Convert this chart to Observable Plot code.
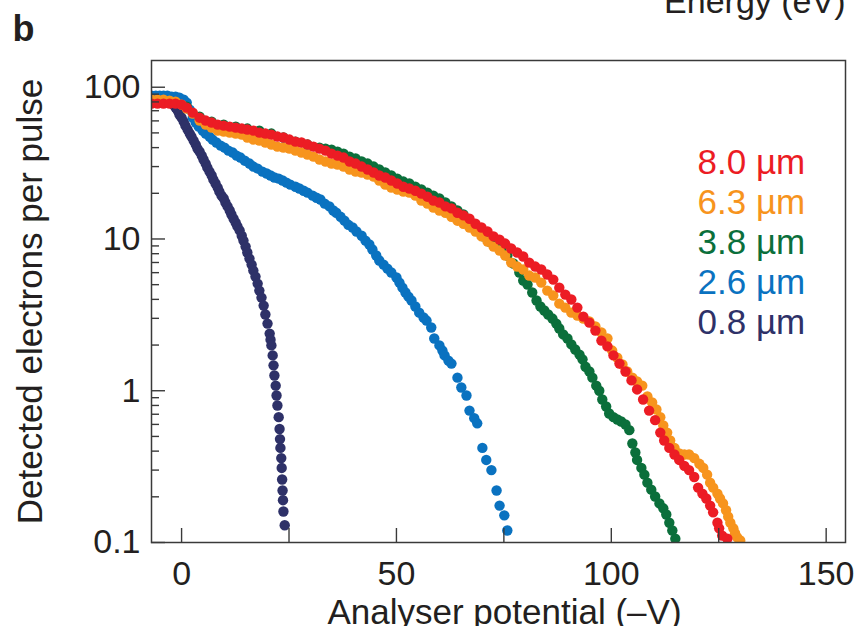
<!DOCTYPE html>
<html>
<head>
<meta charset="utf-8">
<script src="https://cdn.jsdelivr.net/npm/d3@7"></script>
<script src="https://cdn.jsdelivr.net/npm/@observablehq/plot@0.6"></script>
<style>
  html, body { margin: 0; padding: 0; background: #fff; }
  #chart svg { display: block; }
</style>
</head>
<body>
<div id="chart"></div>
<script>
// ---- Series names / colours ----
const seriesNames = ["0.8 µm", "2.6 µm", "3.8 µm", "6.3 µm", "8.0 µm"];
const seriesColors = ["#2e3168", "#0a72c0", "#0b6f3b", "#f7941d", "#ec1c24"];
const legendOrder = ["8.0 µm", "6.3 µm", "3.8 µm", "2.6 µm", "0.8 µm"];

// ---- 0.8 µm ----
const x08 = [-7.0,-6.5,-6.0,-5.6,-5.1,-4.7,-4.2,-3.7,-3.3,-2.8,-2.3,-1.9,-1.4,-0.9,-0.5,0.0,0.5,0.9,1.4,1.9,2.3,2.8,3.3,3.7,4.2,4.7,5.1,5.6,6.0,6.5,7.0,7.4,7.9,8.4,8.8,9.3,9.8,10.2,10.7,11.2,11.6,12.1,12.6,13.0,13.5,14.0,14.4,14.9,15.3,15.8,16.3,16.7,17.2,17.7,18.1,18.6,19.1,19.5,20.0,20.5,20.7,20.9,21.2,21.4,21.6,21.9,22.1,22.3,22.6,22.8,22.9,23.0,23.2,23.3,23.4,23.5,23.6,23.7,24.0];
const y08 = [81.6,82.9,82.9,82.9,82.9,82.9,81.6,81.6,81.6,80.4,79.2,76.8,73.4,70.2,66.0,63.0,59.3,55.8,52.6,49.5,47.3,44.5,41.9,39.4,37.6,35.4,33.4,31.4,29.5,27.8,26.2,24.6,23.2,21.8,20.5,19.3,18.5,17.4,16.4,15.4,14.5,13.6,12.8,12.1,11.4,10.5,9.76,8.91,8.14,7.43,6.78,6.19,5.65,5.08,4.57,4.11,3.64,3.18,2.77,2.38,2.17,1.99,1.71,1.47,1.26,1.08,0.93,0.80,0.67,0.56,0.48,0.42,0.36,0.31,0.26,0.22,0.19,0.16,0.13];

// ---- 2.6 µm ----
const x26 = [-7.0,-6.0,-5.1,-4.2,-3.3,-2.3,-1.4,-0.5,0.5,1.2,1.9,2.6,3.3,4.0,4.9,5.6,6.5,7.2,8.1,9.1,10.0,10.9,11.9,12.8,13.7,14.7,15.8,16.7,17.7,18.8,19.8,20.7,21.6,22.6,23.5,24.4,25.3,26.5,27.4,28.4,29.3,30.5,31.4,32.3,33.3,34.4,35.3,36.0,37.0,37.9,38.8,39.8,40.7,41.9,42.8,43.7,44.4,45.3,46.0,47.0,47.9,48.8,50.0,50.7,51.4,52.1,52.8,53.5,54.4,55.3,56.3,57.0,58.1,58.8,60.0,60.7,61.2,62.1,62.8,64.2,65.1,66.3,67.0,68.1,68.8,70.0,70.9,72.1,73.3,74.0,75.1,75.8];
const y26 = [88.0,88.0,88.0,88.0,88.0,86.7,86.7,85.4,82.9,79.2,71.2,63.0,58.5,55.0,51.8,49.5,47.3,45.2,43.2,41.2,40.0,38.2,37.1,35.4,34.4,32.8,31.4,30.0,29.1,27.8,27.0,26.2,25.4,25.0,24.3,23.5,22.8,22.1,21.5,20.8,20.2,19.3,18.7,18.2,17.1,16.4,15.4,14.9,14.0,13.2,12.4,11.9,11.2,10.5,9.76,9.19,8.52,7.78,7.21,6.78,6.38,6.01,5.57,5.16,4.78,4.44,4.17,3.93,3.59,3.27,3.04,2.90,2.61,2.21,1.99,1.84,1.71,1.58,1.51,1.22,1.05,0.93,0.74,0.66,0.61,0.42,0.35,0.30,0.22,0.175,0.151,0.120];

// ---- 3.8 µm ----
const x38 = [-7.0,-4.2,-1.4,1.2,4.2,7.0,9.8,12.6,15.3,18.1,20.9,23.7,26.5,29.3,32.1,33.5,34.9,36.3,37.7,39.1,40.5,41.9,43.3,44.7,46.0,47.4,48.8,50.2,51.6,53.0,54.4,55.8,57.2,58.6,60.0,61.4,62.8,64.2,65.6,67.0,68.8,70.2,71.6,73.0,74.4,75.8,77.2,78.6,79.5,80.5,81.6,82.6,83.5,84.4,85.3,86.3,87.2,87.9,88.8,89.8,90.7,91.6,92.6,93.3,94.0,94.9,95.6,96.5,97.2,97.9,98.8,99.5,100.5,101.4,102.3,103.3,104.2,104.9,105.6,106.0,107.0,107.7,108.4,109.3,110.2,111.2,112.1,112.8,113.5,114.2,114.9];
const y38 = [80.4,80.4,79.2,74.5,64.0,59.3,56.7,55.0,53.4,51.8,49.5,46.6,43.8,41.9,40.0,39.4,38.8,37.6,36.5,34.9,33.9,32.4,31.4,30.0,28.7,27.4,26.2,25.0,23.9,23.2,22.1,21.2,20.2,19.3,18.5,17.4,16.4,15.4,14.5,13.2,11.4,10.4,9.61,9.19,8.52,7.78,6.89,6.01,5.32,5.01,4.44,3.93,3.59,3.38,3.18,2.99,2.77,2.57,2.35,2.21,2.02,1.87,1.73,1.61,1.44,1.34,1.22,1.08,1.00,0.875,0.787,0.708,0.67,0.646,0.627,0.599,0.55,0.449,0.392,0.35,0.31,0.28,0.248,0.223,0.201,0.181,0.168,0.153,0.135,0.120,0.106];

// ---- 6.3 µm ----
const x63 = [-7.0,-5.6,-4.2,-2.8,-1.4,0.0,1.2,2.6,4.2,5.6,7.0,8.4,9.8,11.2,12.6,14.0,15.3,16.7,18.1,19.5,20.9,22.3,23.7,25.1,26.5,27.9,29.3,30.7,32.1,33.5,34.9,36.3,37.7,39.1,40.5,41.9,43.3,44.7,46.0,47.4,48.8,50.2,51.6,53.0,54.4,55.8,57.2,58.6,60.0,61.4,62.8,64.2,65.6,67.0,68.4,69.8,71.2,72.6,74.0,75.3,76.7,78.1,79.5,80.9,82.3,83.7,85.1,86.5,87.9,89.3,90.7,92.1,93.5,94.9,96.3,97.7,99.1,100.2,101.4,102.6,103.7,104.9,106.0,107.2,108.4,109.5,110.5,111.4,112.1,113.0,113.7,114.7,115.8,117.0,118.1,119.3,120.5,121.4,122.3,123.0,123.7,124.7,125.3,126.0,126.7,127.2,127.7,128.4,128.8,129.3,130.0];
const y63 = [82.9,82.9,82.9,81.6,80.4,76.8,72.3,67.0,60.3,56.7,54.2,51.8,51.0,50.2,49.5,48.7,46.6,45.2,44.5,43.2,41.9,40.6,40.0,39.4,38.2,37.1,36.0,34.9,33.4,32.4,31.4,30.9,30.0,28.7,27.8,27.4,26.6,25.8,24.3,22.8,21.8,21.2,20.5,20.2,19.3,17.9,17.1,16.1,15.4,14.9,14.0,13.2,12.6,11.9,11.2,10.4,9.61,8.91,8.39,7.78,6.99,6.58,6.29,5.74,5.57,5.16,4.57,4.24,3.75,3.53,3.27,3.13,2.99,2.86,2.65,2.42,2.21,1.84,1.65,1.49,1.34,1.22,1.15,1.08,0.916,0.836,0.752,0.67,0.59,0.53,0.47,0.42,0.386,0.38,0.38,0.36,0.33,0.31,0.28,0.248,0.23,0.21,0.195,0.181,0.163,0.148,0.135,0.124,0.115,0.108,0.103];

// ---- 8.0 µm ----
const x80 = [-7.0,-5.6,-4.2,-2.8,-1.4,0.0,1.2,2.6,4.2,5.6,7.0,8.4,9.8,11.2,12.6,14.0,15.3,16.7,18.1,19.5,20.9,22.3,23.7,25.1,26.5,27.9,29.3,30.7,32.1,33.5,34.9,36.3,37.7,39.1,40.5,41.9,43.3,44.7,46.0,47.4,48.8,50.2,51.6,53.0,54.4,55.8,57.2,58.6,60.0,61.4,62.8,64.2,65.6,67.0,68.4,69.8,71.2,72.6,74.0,75.3,76.7,78.1,79.5,80.9,82.3,83.7,85.1,86.5,87.9,89.3,90.7,92.1,93.5,94.9,96.3,97.7,99.1,100.5,101.9,103.3,104.7,106.0,107.4,108.8,110.2,111.4,112.3,113.5,114.7,115.8,117.0,118.1,119.3,120.2,121.2,122.1,123.0,123.7,124.7,125.1,125.8,127.0];
const y80 = [78.0,78.0,78.0,78.0,78.0,76.8,73.4,68.0,63.0,60.3,58.5,56.7,55.8,55.0,54.2,53.4,52.6,51.8,50.2,49.5,48.7,47.3,46.6,45.2,43.8,43.2,41.9,40.6,39.4,38.2,36.5,35.4,34.4,32.4,31.4,30.0,28.7,27.4,26.2,25.4,24.3,23.2,22.1,21.5,20.8,19.9,19.0,17.9,17.4,16.4,15.9,14.9,14.3,13.6,12.6,11.9,11.2,10.4,9.91,9.33,8.65,8.14,7.66,6.99,6.58,6.29,5.83,5.40,4.78,4.30,3.99,3.53,3.08,2.81,2.49,2.14,1.96,1.71,1.51,1.34,1.17,1.02,0.875,0.74,0.64,0.53,0.47,0.42,0.38,0.35,0.32,0.30,0.27,0.23,0.21,0.195,0.175,0.158,0.135,0.124,0.111,0.106];

// ---- Axis ticks ----
const yMajorTicks = [0.1, 1, 10, 100];
const yMinorTicks = [0.2,0.3,0.4,0.5,0.6,0.7,0.8,0.9,2,3,4,5,6,7,8,9,20,30,40,50,60,70,80,90];
const xTicks = [0, 25, 50, 75, 100, 125, 150];
const xTickLabels = [0, 50, 100, 150];

// ---- Texts ----
const panelLabel = "b";
const topCutLabel = "Energy (eV)";
const xTitle = "Analyser potential (\u2013V)";
const yTitle = "Detected electrons per pulse";

// Build table (draw order: 0.8, 2.6, 3.8, 6.3, 8.0)
const seriesData = [[x08, y08], [x26, y26], [x38, y38], [x63, y63], [x80, y80]];
const rows = [];
seriesData.forEach(([xs, ys], k) => {
  xs.forEach((x, i) => rows.push({series: seriesNames[k], x, y: ys[i]}));
});

const FONT = "'Liberation Sans', Arial, Helvetica, sans-serif";
const INK = "#231f20";
const TICK = "#3a3a3a";
const colorOf = Object.fromEntries(seriesNames.map((n, i) => [n, seriesColors[i]]));

const legendMarks = legendOrder.map((name, i) =>
  Plot.text([name], {
    text: d => d, frameAnchor: "top-right", dx: -148, dy: 102 + 40 * i,
    textAnchor: "start", lineAnchor: "middle", fill: colorOf[name], fontSize: 35
  })
);

const chart = Plot.plot({
  width: 857,
  height: 626,
  marginLeft: 151,
  marginRight: 12,
  marginTop: 60,
  marginBottom: 84,
  style: {fontFamily: FONT, background: "#fff", color: INK, overflow: "hidden"},
  x: {domain: [-7, 154.5], axis: null},
  y: {type: "log", domain: [0.1, 150], axis: null},
  color: {domain: seriesNames, range: seriesColors},
  marks: [
    Plot.dot(rows, {x: "x", y: "y", fill: "series", r: 5.2, clip: true}),
    Plot.frame({stroke: TICK, strokeWidth: 1.5}),
    // y major / minor ticks (inward)
    Plot.axisY(yMajorTicks, {anchor: "left", label: null, tickSize: 14, dx: 14, tickFormat: () => "", stroke: TICK, strokeWidth: 1.4}),
    Plot.axisY(yMinorTicks, {anchor: "left", label: null, tickSize: 8, dx: 8, tickFormat: () => "", stroke: TICK, strokeWidth: 1.4}),
    Plot.axisY(yMajorTicks, {anchor: "left", label: null, tickSize: 0, tickPadding: 11, tickFormat: d => String(d), fontSize: 34, fill: INK}),
    // x ticks (inward)
    Plot.axisX(xTicks, {anchor: "bottom", label: null, tickSize: 14, dy: -14, tickFormat: () => "", stroke: TICK, strokeWidth: 1.4}),
    Plot.axisX(xTickLabels, {anchor: "bottom", label: null, tickSize: 0, tickPadding: 18, tickFormat: d => String(d), fontSize: 34, fill: INK}),
    // titles
    Plot.text([yTitle], {text: d => d, frameAnchor: "left", dx: -121, rotate: -90, textAnchor: "middle", lineAnchor: "middle", fontSize: 35, fill: INK}),
    Plot.text([xTitle], {text: d => d, frameAnchor: "bottom", dx: 6, dy: 81, textAnchor: "middle", lineAnchor: "bottom", fontSize: 35, fill: INK}),
    Plot.text([panelLabel], {text: d => d, frameAnchor: "top-left", dx: -139, dy: -20, textAnchor: "start", lineAnchor: "bottom", fontSize: 36, fontWeight: "bold", fill: INK}),
    Plot.text([topCutLabel], {text: d => d, frameAnchor: "top-right", dx: 0, dy: -48, textAnchor: "end", lineAnchor: "bottom", fontSize: 34, fill: INK}),
    ...legendMarks
  ]
});
document.getElementById("chart").appendChild(chart);
</script>
</body>
</html>
